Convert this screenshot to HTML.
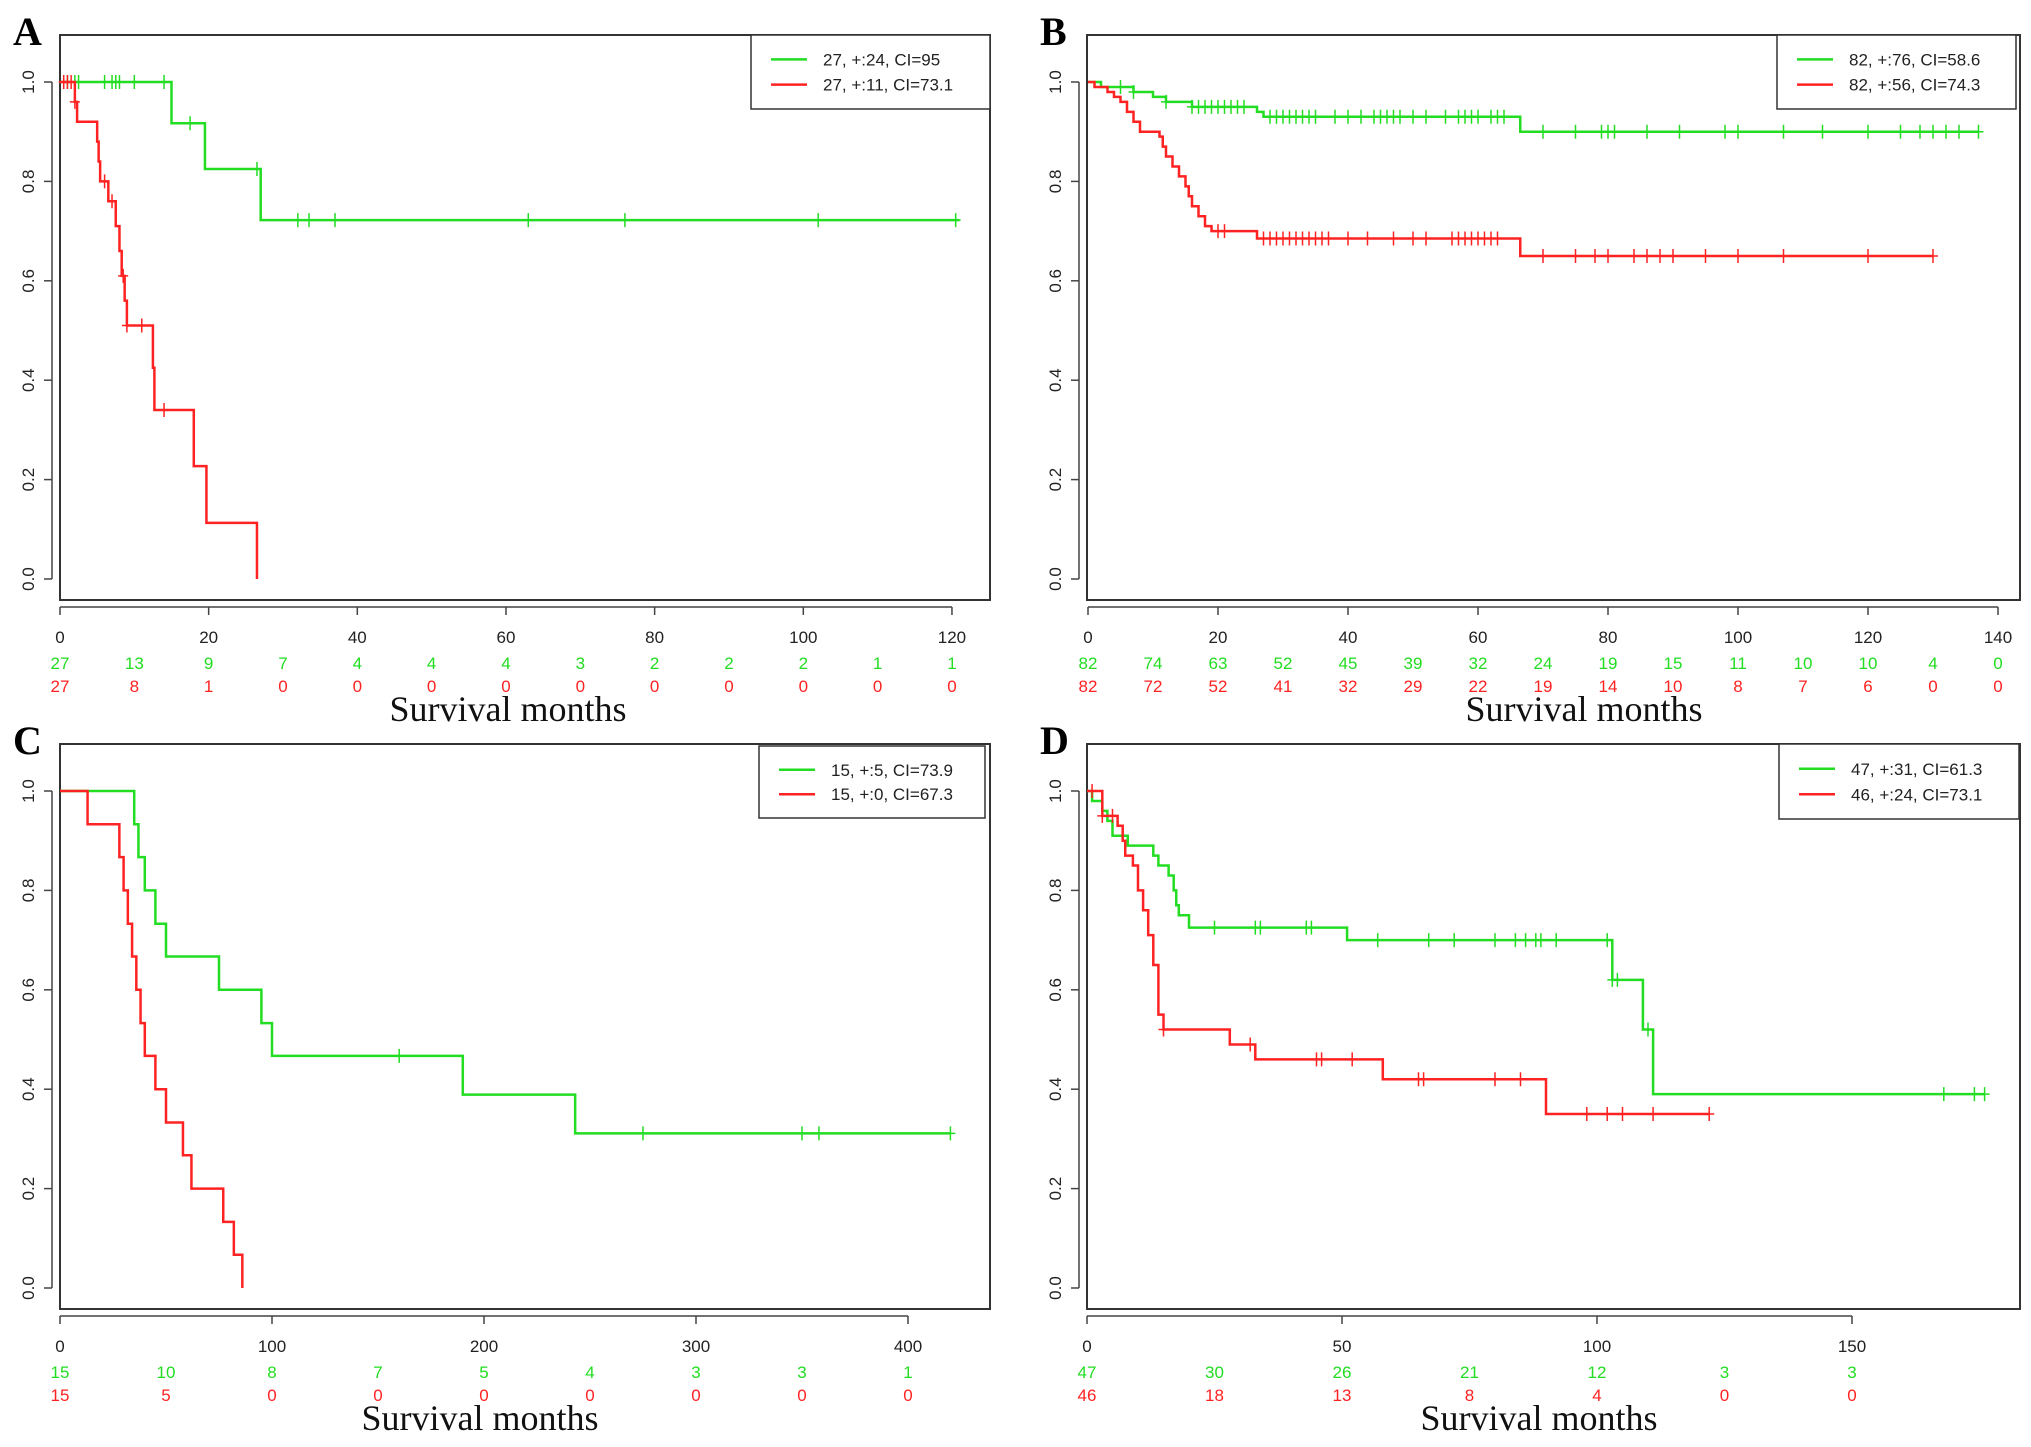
<!DOCTYPE html>
<html><head><meta charset="utf-8"><style>
html,body{margin:0;padding:0;background:#fff}
svg{display:block}
text{font-family:"Liberation Sans",sans-serif}
.ser{font-family:"Liberation Serif",serif}
</style></head><body>
<svg id="fig" width="2031" height="1447" viewBox="0 0 2031 1447" xmlns="http://www.w3.org/2000/svg"></svg>
<script>
// ---- Panel A data ----
const aGreenT=[15,19.5,27];
const aGreenS=[0.917,0.825,0.722];
const aGreenC=[1,2,2.5,6,7,7.5,8,10,14,17.5,26.5,32,33.5,37,63,76,102,120.5];
const aRedT=[2,2.3,5,5.2,5.4,6.5,7.5,8,8.3,8.7,9,12.5,12.7,18,19.7,26.5];
const aRedS=[0.96,0.92,0.88,0.84,0.80,0.76,0.71,0.66,0.61,0.56,0.51,0.425,0.34,0.227,0.113,0];
const aRedC=[0.5,1,1.5,2,6,7,8.5,9,11,14];
const aGreenEnd=121, aRedEnd=26.5;
const aXTicks=[0,20,40,60,80,100,120];
const aRiskT=[0,10,20,30,40,50,60,70,80,90,100,110,120];
const aRiskG=[27,13,9,7,4,4,4,3,2,2,2,1,1];
const aRiskR=[27,8,1,0,0,0,0,0,0,0,0,0,0];
const aLegend=["27, +:24, CI=95","27, +:11, CI=73.1"];
// ---- Panel B data ----
const bGreenT=[2,7,10,12,16,26,27,66.5];
const bGreenS=[0.99,0.98,0.97,0.96,0.95,0.94,0.93,0.90];
const bGreenC=[5,7,12,16,17,18,19,20,21,22,23,24,28,29,30,31,32,33,34,35,38,40,42,44,45,46,47,48,50,52,55,57,58,59,60,62,63,64,70,75,79,80,81,86,91,98,100,107,113,120,125,128,130,132,134,137];
const bRedT=[1,3,4,5,6,7,8,11,11.5,12,13,14,15,15.5,16,17,18,19,26,66.5];
const bRedS=[0.99,0.98,0.97,0.96,0.94,0.92,0.90,0.89,0.87,0.85,0.83,0.81,0.79,0.77,0.75,0.73,0.71,0.70,0.685,0.65];
const bRedC=[20,21,27,28,29,30,31,32,33,34,35,36,37,40,43,47,50,52,56,57,58,59,60,61,62,63,70,75,78,80,84,86,88,90,95,100,107,120,130];
const bGreenEnd=137, bRedEnd=130;
const bXTicks=[0,20,40,60,80,100,120,140];
const bRiskT=[0,10,20,30,40,50,60,70,80,90,100,110,120,130,140];
const bRiskG=[82,74,63,52,45,39,32,24,19,15,11,10,10,4,0];
const bRiskR=[82,72,52,41,32,29,22,19,14,10,8,7,6,0,0];
const bLegend=["82, +:76, CI=58.6","82, +:56, CI=74.3"];
// ---- Panel C data ----
const cGreenT=[35,37,40,45,50,75,95,100,190,243];
const cGreenS=[0.933,0.867,0.80,0.733,0.667,0.60,0.533,0.467,0.389,0.311];
const cGreenC=[160,275,350,358,420];
const cRedT=[13,28,30,32,34,36,38,40,45,50,58,62,77,82,86];
const cRedS=[0.933,0.867,0.80,0.733,0.667,0.60,0.533,0.467,0.40,0.333,0.267,0.20,0.133,0.067,0];
const cRedC=[];
const cGreenEnd=420, cRedEnd=86;
const cXTicks=[0,100,200,300,400];
const cRiskT=[0,50,100,150,200,250,300,350,400];
const cRiskG=[15,10,8,7,5,4,3,3,1];
const cRiskR=[15,5,0,0,0,0,0,0,0];
const cLegend=["15, +:5, CI=73.9","15, +:0, CI=67.3"];
// ---- Panel D data ----
const dGreenT=[1,3,4,5,8,13,14,16,17,17.5,18,20,51,103,109,111];
const dGreenS=[0.98,0.96,0.94,0.91,0.89,0.87,0.85,0.83,0.80,0.77,0.75,0.725,0.70,0.62,0.52,0.39];
const dGreenC=[25,33,34,43,44,57,67,72,80,84,86,88,89,92,102,103,104,110,168,174,176];
const dRedT=[3,6,7,7.5,9,10,11,12,13,14,15,28,33,58,90];
const dRedS=[0.95,0.93,0.90,0.87,0.85,0.80,0.76,0.71,0.65,0.55,0.52,0.49,0.46,0.42,0.35];
const dRedC=[1,3,5,15,32,45,46,52,65,66,80,85,98,102,105,111,122];
const dGreenEnd=176, dRedEnd=122;
const dXTicks=[0,50,100,150];
const dRiskT=[0,25,50,75,100,125,150];
const dRiskG=[47,30,26,21,12,3,3];
const dRiskR=[46,18,13,8,4,0,0];
const dLegend=["47, +:31, CI=61.3","46, +:24, CI=73.1"];
const yTicks=[0,0.2,0.4,0.6,0.8,1.0];

const NS="http://www.w3.org/2000/svg";
const svg=document.getElementById('fig');
function mk(tag,attrs,parent){const e=document.createElementNS(NS,tag);for(const k in attrs)e.setAttribute(k,attrs[k]);(parent||svg).appendChild(e);return e;}
const GREEN="#22dd22", RED="#ff2222";

function panel(cfg){
  const g=mk('g',{});
  
  
  const sx=t=>cfg.x0+t*cfg.px;
  const sy=v=>cfg.y0+(cfg.y1-cfg.y0)*v;
  const box=mk('rect',{x:cfg.bx1,y:cfg.by1,width:cfg.bx2-cfg.bx1,height:cfg.by2-cfg.by1,fill:'none',stroke:'#333','stroke-width':2},g);
  
  const lab=mk('text',{x:cfg.bx1-47,y:cfg.by1+10,'font-size':40,'font-weight':'bold',class:'ser'},g);
  lab.textContent=cfg.id;
  
  // y axis
  const axY=cfg.bx1-8;
  mk('line',{x1:axY,x2:axY,y1:sy(0),y2:sy(1),stroke:'#444','stroke-width':1.5},g);
  yTicks.forEach(v=>{
    mk('line',{x1:axY-8,x2:axY,y1:sy(v),y2:sy(v),stroke:'#444','stroke-width':1.5},g);
    const t=mk('text',{x:axY-18,y:sy(v),'font-size':17,'text-anchor':'middle',fill:'#222',transform:`rotate(-90 ${axY-18} ${sy(v)})`},g);
    t.textContent=v.toFixed(1);
    
  });
  // x axis
  const axX=cfg.by2+7;
  mk('line',{x1:sx(cfg.xt[0]),x2:sx(cfg.xt[cfg.xt.length-1]),y1:axX,y2:axX,stroke:'#444','stroke-width':1.5},g);
  cfg.xt.forEach(v=>{
    mk('line',{x1:sx(v),x2:sx(v),y1:axX,y2:axX+8,stroke:'#444','stroke-width':1.5},g);
    const t=mk('text',{x:sx(v),y:cfg.by2+43,'font-size':17,'text-anchor':'middle',fill:'#222'},g);
    t.textContent=v;
    
  });
  cfg.rt.forEach((v,i)=>{
    const a=mk('text',{x:sx(v),y:cfg.by2+69,'font-size':17,'text-anchor':'middle',fill:GREEN},g);
    a.textContent=cfg.rg[i];
    
    const b=mk('text',{x:sx(v),y:cfg.by2+92,'font-size':17,'text-anchor':'middle',fill:RED},g);
    b.textContent=cfg.rr[i];
    
  });
  const title=mk('text',{x:cfg.tx,y:cfg.by2+121,'font-size':36,'text-anchor':'middle',class:'ser',fill:'#111'},g);
  title.textContent='Survival months';
  
  // curves
  function curve(T,S,C,end,col,name){
    let d=`M${sx(0)},${sy(1)}`;let cur=1;
    T.forEach((t,i)=>{d+=` H${sx(t)} V${sy(S[i])}`;cur=S[i];});
    d+=` H${sx(end)}`;
    const p=mk('path',{d:d,fill:'none',stroke:col,'stroke-width':2.5},g);
    
    C.forEach(c=>{
      let v=1;T.forEach((t,i)=>{if(t<=c)v=S[i];});
      const m=mk('path',{d:`M${sx(c)},${sy(v)-7} V${sy(v)+7} M${sx(c)-5},${sy(v)} H${sx(c)+5}`,stroke:col,'stroke-width':1.5,fill:'none'},g);
      
    });
  }
  curve(cfg.gT,cfg.gS,cfg.gC,cfg.gE,GREEN,'green');
  curve(cfg.rT,cfg.rS,cfg.rC,cfg.rE,RED,'red');
  // legend
  const L=cfg.leg;
  const lg=mk('g',{},g);
  
  mk('rect',{x:L[0],y:L[1],width:L[2]-L[0],height:L[3]-L[1],fill:'#fff',stroke:'#333','stroke-width':1.5},lg);
  [[GREEN,cfg.lt[0],0.33],[RED,cfg.lt[1],0.67]].forEach(([c,s,f])=>{
    const yy=L[1]+(L[3]-L[1])*f;
    mk('line',{x1:L[0]+20,x2:L[0]+56,y1:yy,y2:yy,stroke:c,'stroke-width':2.5},lg);
    const t=mk('text',{x:L[0]+72,y:yy+6,'font-size':17,fill:'#222'},lg);
    t.textContent=s;
    
  });
}
const topY={by1:35,by2:600,y1:82,y0:579};
const botY={by1:744,by2:1309,y1:791,y0:1288};
panel(Object.assign({id:'A',bx1:60,bx2:990,x0:60,px:7.433,tx:508,xt:aXTicks,rt:aRiskT,rg:aRiskG,rr:aRiskR,
 gT:aGreenT,gS:aGreenS,gC:aGreenC,gE:aGreenEnd,rT:aRedT,rS:aRedS,rC:aRedC,rE:aRedEnd,leg:[751,35,990,109],lt:aLegend},topY));
panel(Object.assign({id:'B',bx1:1087,bx2:2020,x0:1088,px:6.5,tx:1584,xt:bXTicks,rt:bRiskT,rg:bRiskG,rr:bRiskR,
 gT:bGreenT,gS:bGreenS,gC:bGreenC,gE:bGreenEnd,rT:bRedT,rS:bRedS,rC:bRedC,rE:bRedEnd,leg:[1777,35,2016,109],lt:bLegend},topY));
panel(Object.assign({id:'C',bx1:60,bx2:990,x0:60,px:2.12,tx:480,xt:cXTicks,rt:cRiskT,rg:cRiskG,rr:cRiskR,
 gT:cGreenT,gS:cGreenS,gC:cGreenC,gE:cGreenEnd,rT:cRedT,rS:cRedS,rC:cRedC,rE:cRedEnd,leg:[759,746,985,818],lt:cLegend},botY));
panel(Object.assign({id:'D',bx1:1087,bx2:2020,x0:1087,px:5.1,tx:1539,xt:dXTicks,rt:dRiskT,rg:dRiskG,rr:dRiskR,
 gT:dGreenT,gS:dGreenS,gC:dGreenC,gE:dGreenEnd,rT:dRedT,rS:dRedS,rC:dRedC,rE:dRedEnd,leg:[1779,744,2019,819],lt:dLegend},botY));
</script>
</body></html>
